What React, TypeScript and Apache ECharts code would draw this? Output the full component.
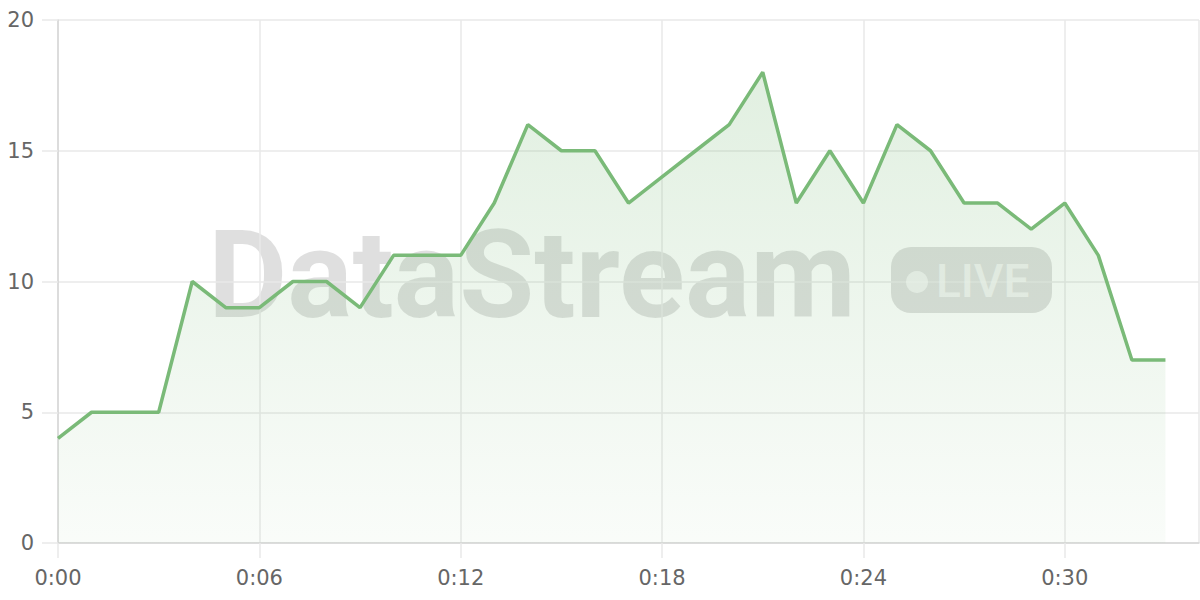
import * as echarts from 'echarts'
import { useEffect, useRef } from 'react'

// minute index -> value
const minutes = [
  0, 1, 2, 3, 4, 5, 6, 7, 8, 9, 10, 11, 12, 13, 14, 15, 16, 17, 18, 19, 20, 21, 22, 23, 24, 25, 26,
  27, 28, 29, 30, 31, 32, 33,
]
const values = [
  4, 5, 5, 5, 10, 9, 9, 10, 10, 9, 11, 11, 11, 13, 16, 15, 15, 13, 14, 15, 16, 18, 13, 15, 13, 16,
  15, 13, 13, 12, 13, 11, 7, 7,
]
const yTicks = [0, 5, 10, 15, 20]

const LINE = '#7aba78'
const LABEL = '#666666'
const GRID = '#e9e9e9'
const labelFont = 'DejaVu Sans'

const fmtTime = (v: number) => `0:${String(v).padStart(2, '0')}`

export default function App() {
  const ref = useRef<HTMLDivElement | null>(null)

  useEffect(() => {
    if (!ref.current) {
      return
    }
    const chart = echarts.init(ref.current, undefined, { renderer: 'svg' })

    chart.setOption({
      animation: false,
      backgroundColor: '#ffffff',
      grid: { left: 58, right: 1, top: 20, bottom: 57, containLabel: false },
      graphic: [
        {
          type: 'text',
          z: 0,
          left: 208,
          top: 214,
          style: {
            text: 'DataStream',
            font: 'bold 122px Roboto',
            fill: 'rgba(0,0,0,0.125)',
          },
        },
        {
          type: 'rect',
          z: 0,
          shape: { x: 891, y: 247, width: 161, height: 66, r: 20 },
          style: { fill: 'rgba(0,0,0,0.125)' },
        },
        {
          type: 'circle',
          z: 1,
          shape: { cx: 917, cy: 282, r: 11 },
          style: { fill: 'rgba(255,255,255,0.6)' },
        },
        {
          type: 'text',
          z: 1,
          x: 936,
          y: 281,
          style: {
            text: 'LIVE',
            font: '500 46px Roboto',
            fill: 'rgba(255,255,255,0.6)',
            verticalAlign: 'middle',
          },
        },
      ],
      xAxis: {
        type: 'value',
        min: 0,
        max: 34,
        interval: 6,
        axisLine: { show: true, lineStyle: { color: '#d6d6d6', width: 1.5 } },
        axisTick: { show: true, length: 15, lineStyle: { color: GRID, width: 1.5 } },
        splitLine: { show: true, lineStyle: { color: GRID, width: 1.5 } },
        axisLabel: {
          color: LABEL,
          fontFamily: labelFont,
          fontSize: 21,
          margin: 24,
          showMaxLabel: false,
          formatter: (v: number) => fmtTime(v),
        },
      },
      yAxis: {
        type: 'value',
        min: yTicks[0],
        max: yTicks[yTicks.length - 1],
        interval: 5,
        axisLine: { show: true, lineStyle: { color: '#d6d6d6', width: 1.5 } },
        axisTick: { show: true, length: 16, lineStyle: { color: GRID, width: 1.5 } },
        splitLine: { show: true, lineStyle: { color: GRID, width: 1.5 } },
        axisLabel: {
          color: LABEL,
          fontFamily: labelFont,
          fontSize: 21,
          margin: 24,
        },
      },
      series: [
        {
          type: 'line',
          z: 3,
          data: minutes.map((m, i) => [m, values[i]]),
          showSymbol: false,
          symbol: 'none',
          lineStyle: { color: LINE, width: 3.5 },
          areaStyle: {
            color: new echarts.graphic.LinearGradient(0, 0, 0, 1, [
              { offset: 0, color: 'rgba(122,186,120,0.32)' },
              { offset: 1, color: 'rgba(122,186,120,0.06)' },
            ]),
          },
        },
      ],
    })

    return () => {
      chart.dispose()
    }
  }, [])

  return (
    <div
      ref={ref}
      style={{ position: 'fixed', left: 0, top: 0, width: 1200, height: 600 }}
    />
  )
}
